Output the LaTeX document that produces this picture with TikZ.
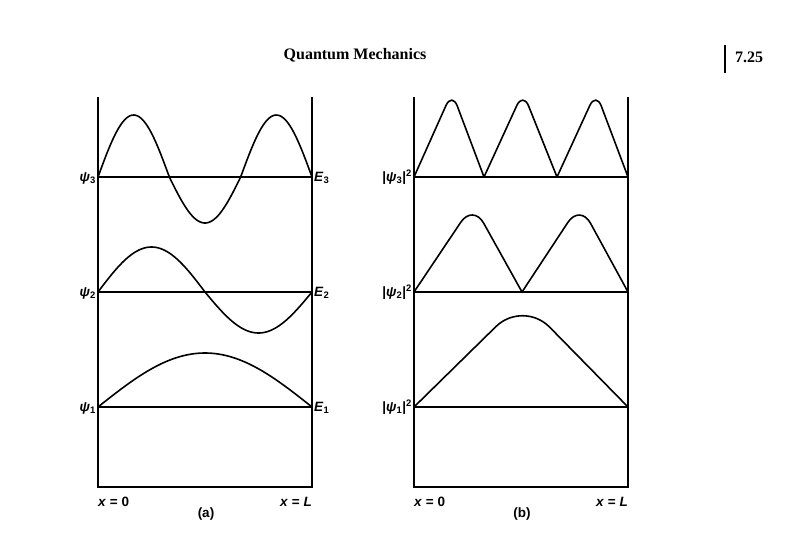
\documentclass[tikz,border=0pt]{standalone}
\usepackage{fontspec}
\setmainfont{Liberation Serif}
\setsansfont{Liberation Sans}

\begin{document}
\begin{tikzpicture}[x=1pt,y=-1pt]
    \tikzstyle{wall}=[line width=1.8pt]
    \tikzstyle{energy}=[line width=1.1pt]
    \tikzstyle{wave}=[line width=1.6pt, line join=round]
    \tikzstyle{hump}=[wave, line cap=round]
    \tikzstyle{every node}=[font=\sffamily\bfseries\fontsize{13.5}{15}\selectfont, inner sep=1pt]
    \tikzstyle{heading}=[font=\rmfamily\bfseries\fontsize{16}{18}\selectfont]
    \useasboundingbox (0,0) rectangle (787,536);
    % running head
    \node[heading] (title) at (355,55) {Quantum Mechanics};
    \node[heading, anchor=west] (page) at (734,57) {7.25};
    \draw[line width=1.8pt] (725,45) -- (725,73);
    % (a) wave functions
    \draw[wall] (98,97) -- (98,487) -- (312,487) -- (312,97);
    \foreach \n/\y in {1/407,2/292,3/177} {
      \draw[energy] (98,\y) -- (312,\y);
      \node[anchor=east] (psi\n) at (97,\y+1) {\textit{ψ}\textsubscript{\n}};
      \node[anchor=west] (E\n) at (313,\y+1) {\textit{E}\textsubscript{\n}};
    }
    \draw[wave] plot[domain=0:1, samples=120] ({98+214*\x}, {177-62*max(sin(540*\x),0)-46*min(sin(540*\x),0)});
    \draw[wave] plot[domain=0:1, samples=100] ({98+214*\x}, {292-45*max(sin(360*\x),0)-41*min(sin(360*\x),0)});
    \draw[wave] plot[domain=0:1, samples=80] ({98+214*\x}, {407-54*sin(180*\x)});
    \node[anchor=west] (a0) at (97,502) {\textit{x} = 0};
    \node[anchor=east] (aL) at (313,502) {\textit{x} = \textit{L}};
    \node (acap) at (206,514) {(a)};
    % (b) probability densities
    \draw[wall] (414,97) -- (414,487) -- (628,487) -- (628,97);
    \foreach \n/\y in {1/407,2/292,3/177} {
      \draw[energy] (414,\y) -- (628,\y);
      \node[anchor=east] (rho\n) at (413,\y) {|\textit{ψ}\textsubscript{\n}|\textsuperscript{2}};
    }
    \foreach \a/\p/\b in {414/452/484, 484/523/557, 557/596/628}
      \draw[hump, rounded corners=15pt] (\a,177) -- (\p,92) -- (\b,177);
    \foreach \a/\p/\b in {414/473/522, 522/580/628}
      \draw[hump, rounded corners=22pt] (\a,292) -- (\p,204) -- (\b,292);
    \draw[hump, rounded corners=38pt] (414,407) -- (523,300) -- (628,407);
    \node[anchor=west] (b0) at (413,502) {\textit{x} = 0};
    \node[anchor=east] (bL) at (629,502) {\textit{x} = \textit{L}};
    \node (bcap) at (522,514) {(b)};
\end{tikzpicture}
\end{document}
